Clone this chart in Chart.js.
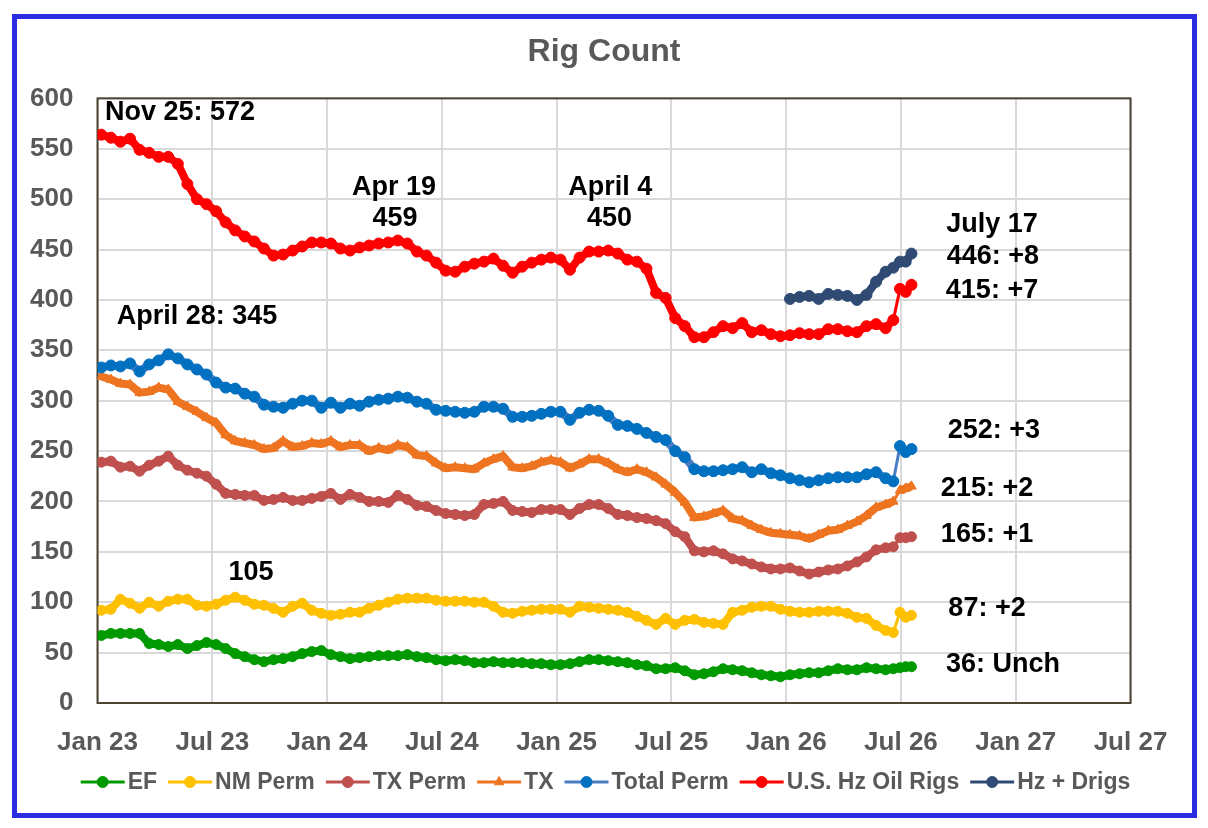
<!DOCTYPE html>
<html>
<head>
<meta charset="utf-8">
<title>Rig Count</title>
<script src="https://cdn.jsdelivr.net/npm/chart.js@4.4.1/dist/chart.umd.min.js"></script>
<style>
  html, body { margin: 0; padding: 0; background: #fff; }
  canvas { display: block; }
</style>
</head>
<body>
<canvas id="rigChart" width="1208" height="828"></canvas>
<script>
// x = months since Jan 1 2023: half-monthly readings, then the last weekly reports
const months = [];
for (let k = 0; k <= 82; k++) months.push(0.2 + 0.5 * k);
months.push(41.6, 41.95, 42.25, 42.55);

const efRigs = [67, 69, 69, 69, 69, 59, 58, 56, 58, 54, 57, 60, 58, 54, 49, 46, 43, 41, 43, 44, 46,
  49, 51, 52, 48, 46, 44, 45, 46, 47, 47, 47, 48, 46, 45, 43, 42, 43, 42, 40, 40, 41,
  40, 40, 40, 39, 39, 38, 38, 39, 41, 43, 43, 42, 41, 40, 38, 37, 34, 34, 35, 32, 28,
  29, 31, 34, 33, 32, 30, 28, 27, 26, 28, 29, 30, 30, 32, 34, 33, 33, 35, 34, 33,
  34, 35, 36, 36];

const nmPerm = [92, 93, 103, 99, 94, 100, 96, 101, 103, 103, 97, 96, 98, 102, 105, 102, 98, 97, 94, 90, 96,
  99, 92, 89, 87, 88, 90, 90, 94, 97, 100, 103, 104, 104, 104, 102, 101, 101, 101, 100, 100, 96,
  90, 89, 91, 92, 93, 93, 93, 90, 96, 95, 94, 93, 92, 90, 86, 82, 78, 84, 78, 82, 83,
  80, 79, 78, 90, 92, 95, 96, 96, 93, 91, 90, 90, 91, 91, 91, 89, 85, 84, 77, 72,
  70, 90, 85, 87];

const txPerm = [239, 240, 234, 235, 230, 236, 240, 245, 236, 231, 228, 225, 217, 208, 207, 206, 206, 201, 202, 204, 201,
  201, 203, 205, 208, 202, 207, 204, 200, 200, 199, 206, 202, 196, 195, 191, 188, 187, 186, 187, 197, 198,
  200, 191, 190, 189, 192, 192, 192, 187, 193, 197, 197, 193, 187, 186, 184, 183, 181, 178, 170, 165, 151,
  150, 151, 148, 143, 141, 138, 135, 133, 133, 134, 131, 128, 130, 132, 133, 136, 140, 145, 152, 154,
  155, 164, 164, 165];

const texas = [324, 321, 317, 316, 308, 309, 313, 311, 299, 294, 289, 283, 278, 266, 260, 258, 256, 252, 253, 260, 254,
  255, 258, 257, 260, 254, 256, 256, 250, 253, 251, 256, 254, 246, 245, 238, 233, 234, 233, 232, 238, 242,
  245, 234, 233, 235, 239, 241, 239, 233, 237, 242, 242, 238, 232, 229, 232, 229, 224, 217, 209, 199, 184,
  185, 188, 191, 183, 181, 176, 172, 169, 168, 167, 166, 163, 167, 171, 172, 176, 180, 186, 194, 197,
  200, 211, 213, 215];

const totalPerm = [333, 335, 334, 337, 329, 336, 340, 346, 342, 336, 331, 326, 318, 313, 312, 307, 304, 296, 294, 293, 297,
  300, 300, 293, 298, 293, 297, 295, 299, 301, 302, 304, 303, 299, 297, 291, 290, 289, 288, 289, 294, 294,
  292, 284, 284, 285, 287, 289, 289, 281, 288, 291, 290, 285, 276, 275, 272, 268, 264, 261, 250, 244, 232,
  230, 230, 231, 232, 234, 229, 232, 228, 226, 223, 221, 219, 221, 223, 224, 224, 224, 227, 229, 223,
  220, 255, 249, 252];

const usHzOil = [564, 561, 557, 560, 549, 546, 542, 542, 535, 515, 500, 495, 488, 477, 469, 463, 458, 451, 444, 445, 449,
  453, 457, 457, 456, 451, 449, 452, 454, 456, 457, 459, 456, 448, 444, 437, 429, 428, 433, 436, 438, 441,
  434, 427, 433, 437, 440, 442, 440, 430, 442, 448, 448, 449, 446, 440, 438, 431, 407, 402, 382, 374, 363,
  363, 368, 374, 372, 377, 368, 370, 366, 364, 365, 367, 366, 366, 371, 371, 369, 368, 374, 376, 372,
  380, 411, 408, 415];

const hzDrigMonths = [36.2, 36.7, 37.2, 37.7, 38.2, 38.7, 39.2, 39.7, 40.2, 40.7, 41.2, 41.6, 41.95, 42.25, 42.55];
const hzDrigs = [401, 403, 404, 401, 406, 405, 404, 400, 405, 418, 428, 432, 438, 438, 446];

const tickLabels = ['Jan 23', 'Jul 23', 'Jan 24', 'Jul 24', 'Jan 25', 'Jul 25', 'Jan 26', 'Jul 26', 'Jan 27', 'Jul 27'];

const notes = [
  { text: 'Nov 25: 572', x: 0.39, y: 586, align: 'left' },
  { text: 'April 28: 345', x: 5.2, y: 384 },
  { text: 'Apr 19', x: 15.5, y: 512 },
  { text: '459', x: 15.55, y: 481 },
  { text: 'April 4', x: 26.8, y: 512 },
  { text: '450', x: 26.76, y: 481 },
  { text: '105', x: 8.02, y: 129 },
  { text: 'July 17', x: 46.76, y: 475 },
  { text: '446: +8', x: 46.81, y: 443 },
  { text: '415: +7', x: 46.76, y: 409 },
  { text: '252: +3', x: 46.86, y: 270 },
  { text: '215: +2', x: 46.5, y: 213 },
  { text: '165: +1', x: 46.5, y: 167 },
  { text: '87: +2', x: 46.5, y: 94 },
  { text: '36: Unch', x: 47.33, y: 38 }
];

const FONT = '"Liberation Sans", Arial, sans-serif';
Chart.defaults.font.family = FONT;

function series(label, xs, ys, lineColor, dotColor, style, radius, order) {
  return {
    label: label,
    data: xs.map((x, i) => ({ x: x, y: ys[i] })),
    borderColor: lineColor,
    backgroundColor: dotColor,
    pointBackgroundColor: dotColor,
    pointBorderColor: dotColor,
    pointStyle: style,
    pointRadius: radius,
    pointBorderWidth: 1,
    borderWidth: 8,
    borderJoinStyle: 'round',
    tension: 0,
    order: order,
    segment: {
      // the last weekly jumps are drawn as a thin connector
      borderWidth: ctx => (ctx.p1.parsed.x > 41.5 && Math.abs(ctx.p1.parsed.y - ctx.p0.parsed.y) > 8) ? 3 : 8
    }
  };
}

const frame = {
  id: 'frame',
  beforeDraw(chart) {
    const c = chart.ctx;
    c.save();
    c.fillStyle = '#ffffff';
    c.fillRect(0, 0, chart.width, chart.height);
    c.strokeStyle = '#2B2BE0';
    c.lineWidth = 5;
    c.strokeRect(14.5, 16.5, 1180, 799);
    c.restore();
  },
  beforeDatasetsDraw(chart) {
    const a = chart.chartArea, c = chart.ctx;
    c.save();
    c.strokeStyle = '#4B4430';
    c.lineWidth = 2;
    c.strokeRect(a.left, a.top, a.right - a.left, a.bottom - a.top);
    c.restore();
  }
};

const labels = {
  id: 'labels',
  afterDraw(chart) {
    const c = chart.ctx, xs = chart.scales.x, ys = chart.scales.y;
    c.save();
    c.font = 'bold 27px ' + FONT;
    c.fillStyle = '#000000';
    c.textBaseline = 'middle';
    notes.forEach(n => {
      c.textAlign = n.align || 'center';
      c.fillText(n.text, xs.getPixelForValue(n.x), ys.getPixelForValue(n.y));
    });

    // legend: line with marker, then the name
    c.font = 'bold 23px ' + FONT;
    c.textAlign = 'left';
    const markW = 44, gap = 3, itemGap = 11, cy = 782;
    const sets = chart.data.datasets;
    let total = 0;
    sets.forEach((d, i) => {
      total += markW + gap + c.measureText(d.label).width + (i ? itemGap : 0);
    });
    let x = 605.5 - total / 2;
    sets.forEach(d => {
      c.strokeStyle = d.borderColor;
      c.lineWidth = 3;
      c.beginPath();
      c.moveTo(x, cy);
      c.lineTo(x + markW, cy);
      c.stroke();
      c.fillStyle = d.pointBackgroundColor;
      c.strokeStyle = d.pointBorderColor;
      c.lineWidth = 1;
      Chart.helpers.drawPoint(c, { pointStyle: d.pointStyle, radius: 5.5, borderWidth: 1, rotation: 0 }, x + markW / 2, cy);
      x += markW + gap;
      c.fillStyle = '#595959';
      c.fillText(d.label, x, cy + 1);
      x += c.measureText(d.label).width + itemGap;
    });
    c.restore();
  }
};

new Chart(document.getElementById('rigChart'), {
  type: 'line',
  data: {
    datasets: [
      series('EF', months, efRigs, '#009A00', '#009A00', 'circle', 5, 7),
      series('NM Perm', months, nmPerm, '#FFC000', '#FFC000', 'circle', 5, 6),
      series('TX Perm', months, txPerm, '#C0504D', '#C0504D', 'circle', 5, 5),
      series('TX', months, texas, '#EE7420', '#EE7420', 'triangle', 5.5, 4),
      series('Total Perm', months, totalPerm, '#4A7CC4', '#0070C0', 'circle', 5.5, 3),
      series('U.S. Hz Oil Rigs', months, usHzOil, '#FF0000', '#FF0000', 'circle', 5.5, 2),
      series('Hz + Drigs', hzDrigMonths, hzDrigs, '#2F4B73', '#2F4B73', 'circle', 5.5, 1)
    ]
  },
  options: {
    responsive: false,
    animation: false,
    devicePixelRatio: 1,
    layout: { padding: { left: 20, right: 20, top: 0, bottom: 65 } },
    plugins: {
      legend: { display: false },
      tooltip: { enabled: false },
      title: {
        display: true,
        text: 'Rig Count',
        color: '#595959',
        font: { size: 32, weight: 'bold' },
        padding: { top: 33, bottom: 27 }
      }
    },
    scales: {
      x: {
        type: 'linear',
        min: 0,
        max: 54,
        afterFit: s => { s.height = 60; },
        grid: { color: '#D9D9D9', lineWidth: 2, drawTicks: false },
        border: { display: false },
        ticks: {
          stepSize: 6,
          autoSkip: false,
          maxRotation: 0,
          padding: 24,
          color: '#595959',
          font: { size: 26, weight: 'bold' },
          callback: v => tickLabels[Math.round(v / 6)]
        }
      },
      y: {
        min: 0,
        max: 600,
        afterFit: s => { s.width = 77.5; },
        grid: { color: '#D9D9D9', lineWidth: 2, drawTicks: false },
        border: { display: false },
        ticks: {
          stepSize: 50,
          padding: 24,
          color: '#595959',
          font: { size: 26, weight: 'bold' }
        }
      },
      // empty right-hand spacer so the title sits over the middle of the frame
      yRight: {
        position: 'right',
        min: 0,
        max: 600,
        afterFit: s => { s.width = 57.5; },
        grid: { display: false },
        border: { display: false },
        ticks: { display: false }
      }
    }
  },
  plugins: [frame, labels]
});
</script>
</body>
</html>
